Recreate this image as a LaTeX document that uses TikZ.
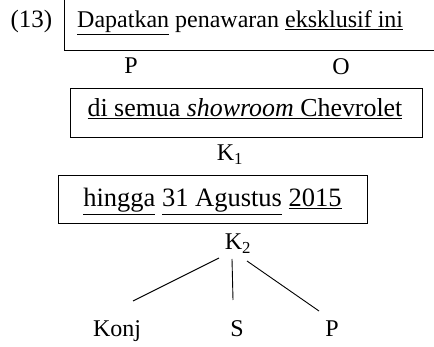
\documentclass[tikz,border=0pt]{standalone}
\usepackage{fontspec}
\setmainfont{Liberation Serif}
\begin{document}
\begin{tikzpicture}[x=1pt,y=-1pt,
  txt/.style={inner sep=0pt,anchor=base,font=\fontsize{24}{28}\selectfont},
  lbl/.style={inner sep=0pt,anchor=base,font=\fontsize{24}{28}\selectfont},
  frame/.style={draw,line width=0.9pt},
  branch/.style={line width=0.9pt}]
\useasboundingbox (0,0) rectangle (434,347);
% top box (clipped)
\coordinate (tl) at (64,0);
\coordinate (bl) at (64,50);
\coordinate (br) at (434,50);
\draw[frame] (tl) -- (bl) -- (br);
\node[txt,anchor=base,font=\fontsize{25}{28}\selectfont] (num) at (31.5,28) {(13)};
\node[txt,anchor=base west] (s1) at (77,28) {\underline{Dapatkan} penawaran \underline{eksklusif ini}};
\node[lbl] (p1) at (131,74) {P};
\node[lbl] (o1) at (341,75) {O};
% box 2
\node[frame,minimum width=352pt,minimum height=49pt,inner sep=0pt] (b2) at (246,112.5) {};
\node[txt,font=\fontsize{25.9}{30}\selectfont] (s2) at (245,117) {\underline{di semua \textit{showroom} Chevrolet}};
\node[lbl] (k1) at (230,161) {K\textsubscript{1}};
% box 3
\node[frame,minimum width=309pt,minimum height=48pt,inner sep=0pt] (b3) at (212.5,199) {};
\node[txt,font=\fontsize{26.5}{30}\selectfont] (s3) at (212.5,207) {\underline{hingga} \underline{31 Agustus} \underline{2015}};
\node[lbl] (k2) at (238,250) {K\textsubscript{2}};
% tree
\coordinate (ka) at (219,258);
\coordinate (kb) at (232,259);
\coordinate (kc) at (247,261);
\coordinate (ea) at (133,301);
\coordinate (eb) at (233,300);
\coordinate (ec) at (319,311);
\draw[branch] (ka) -- (ea);
\draw[branch] (kb) -- (eb);
\draw[branch] (kc) -- (ec);
\node[lbl] (konj) at (117,337) {Konj};
\node[lbl] (s) at (237,337) {S};
\node[lbl] (p2) at (332,337) {P};
\end{tikzpicture}
\end{document}
